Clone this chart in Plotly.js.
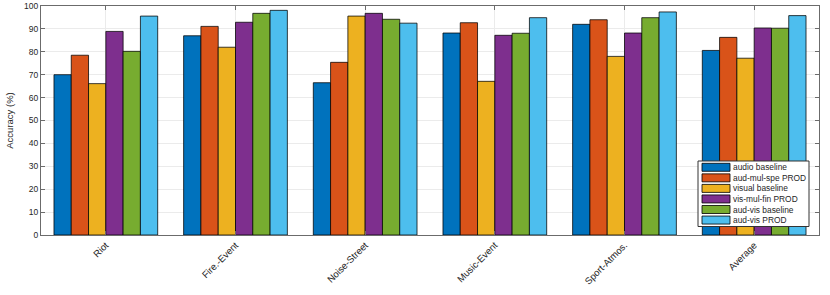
<!DOCTYPE html>
<html><head><meta charset="utf-8">
<script src="https://cdn.plot.ly/plotly-3.0.1.min.js"></script>
<style>body{margin:0;background:#fff}#c{width:830px;height:295px}</style>
</head><body><div id="c"></div>
<script>
const categories = ["Riot","Fire.-Event","Noise-Street","Music-Event","Sport-Atmos.","Average"];
const seriesNames = ["audio baseline","aud-mul-spe PROD","visual baseline","vis-mul-fin PROD","aud-vis baseline","aud-vis PROD"];
const audioBaseline = [70.0, 87.0, 66.5, 88.2, 92.0, 80.6];
const audMulSpeProd = [78.5, 91.1, 75.4, 92.7, 94.0, 86.3];
const visualBaseline = [66.1, 82.0, 95.6, 67.1, 78.0, 77.2];
const visMulFinProd = [88.9, 92.9, 96.8, 87.2, 88.2, 90.4];
const audVisBaseline = [80.2, 96.8, 94.2, 88.1, 94.9, 90.3];
const audVisProd = [95.6, 98.1, 92.5, 94.9, 97.4, 95.8];
const colors = ["#0072BD","#D95319","#EDB120","#7E2F8E","#77AC30","#4DBEEE"];
const yTicks = [0,10,20,30,40,50,60,70,80,90,100];

const series = [audioBaseline, audMulSpeProd, visualBaseline, visMulFinProd, audVisBaseline, audVisProd];
const traces = series.map((v,i)=>({
  type:"bar", x:categories, y:v, name:seriesNames[i],
  marker:{color:colors[i], line:{color:"rgba(0,0,0,0.75)", width:1}}
}));

// Custom compact legend (MATLAB style), positioned in paper coordinates
const W = 830, H = 295, mL = 41, mR = 11, mT = 6, mB = 60;
const pw = W - mL - mR, ph = H - mT - mB;
const px = x => (x - mL) / pw;
const py = y => (H - mB - y) / ph;
const shapes = [];
const annotations = [];
shapes.push({type:"rect", xref:"paper", yref:"paper", x0:px(698), x1:px(809), y0:py(226.5), y1:py(161),
  fillcolor:"#fff", line:{color:"#333", width:1}, layer:"above"});
seriesNames.forEach((n,i)=>{
  const cy = 167.3 + i*10.55;
  shapes.push({type:"rect", xref:"paper", yref:"paper", x0:px(702), x1:px(730), y0:py(cy+4), y1:py(cy-4),
    fillcolor:colors[i], line:{color:"rgba(0,0,0,0.8)", width:1}, layer:"above"});
  annotations.push({xref:"paper", yref:"paper", x:px(731), y:py(cy), xanchor:"left", yanchor:"middle",
    text:n, showarrow:false, font:{size:8.4, color:"#262626"}});
});

const axColor = "#6b6b6b";
const layout = {
  width:W, height:H,
  margin:{l:mL, r:mR, t:mT, b:mB},
  paper_bgcolor:"#fff", plot_bgcolor:"#fff",
  barmode:"group", bargap:0.2, bargroupgap:0,
  font:{family:"Liberation Sans, Arial, sans-serif", size:8, color:"#262626"},
  xaxis:{
    type:"category", range:[-0.5,5.5],
    tickangle:-45, ticks:"inside", ticklen:4, tickcolor:axColor,
    showline:true, linecolor:axColor, linewidth:1, mirror:"ticks",
    showgrid:true, gridcolor:"#ebebeb",
    tickfont:{size:9.5, color:"#262626"}
  },
  yaxis:{
    range:[0,100], tickvals:yTicks, ticks:"inside", ticklen:4, tickcolor:axColor,
    showline:true, linecolor:axColor, linewidth:1, mirror:"ticks",
    showgrid:true, gridcolor:"#ebebeb", zeroline:false,
    tickfont:{size:8.5, color:"#262626"},
    title:{text:"Accuracy (%)", font:{size:9.5, color:"#262626"}, standoff:8}
  },
  showlegend:false,
  shapes:shapes,
  annotations:annotations
};
Plotly.newPlot("c", traces, layout, {displayModeBar:false, staticPlot:true});
</script></body></html>
